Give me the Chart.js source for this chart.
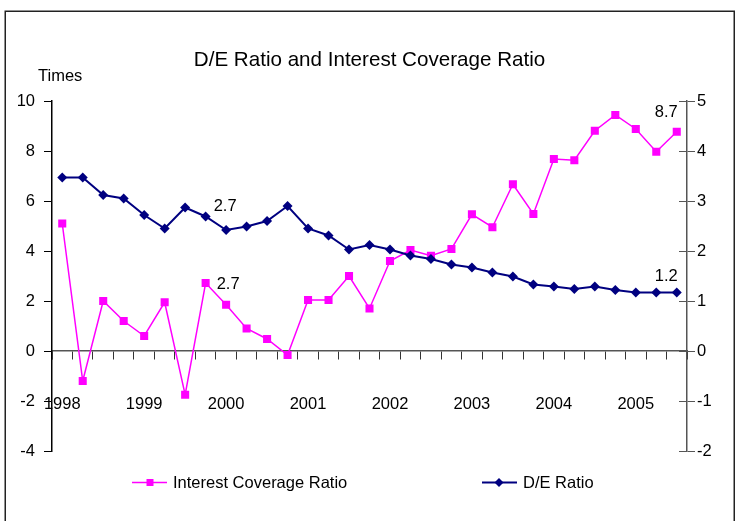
<!DOCTYPE html>
<html><head><meta charset="utf-8">
<script src="https://cdn.jsdelivr.net/npm/chart.js@4/dist/chart.umd.min.js"></script>
<style>html,body{margin:0;padding:0;background:#fff}canvas{display:block}</style>
</head><body>
<canvas id="c" width="747" height="521"></canvas>
<script>
const quarters = ['Q1 1998','Q2 1998','Q3 1998','Q4 1998','Q1 1999','Q2 1999','Q3 1999','Q4 1999',
  'Q1 2000','Q2 2000','Q3 2000','Q4 2000','Q1 2001','Q2 2001','Q3 2001','Q4 2001',
  'Q1 2002','Q2 2002','Q3 2002','Q4 2002','Q1 2003','Q2 2003','Q3 2003','Q4 2003',
  'Q1 2004','Q2 2004','Q3 2004','Q4 2004','Q1 2005','Q2 2005','Q3 2005'];
const interestCoverage = [5.1,-1.2,2.0,1.2,0.6,1.95,-1.75,2.72,1.85,0.9,0.48,-0.16,2.04,2.04,3.0,1.7,
  3.6,4.04,3.81,4.08,5.47,4.95,6.67,5.48,7.68,7.63,8.81,9.44,8.88,7.97,8.77];
const deRatio = [3.47,3.47,3.12,3.05,2.72,2.45,2.87,2.69,2.42,2.49,2.6,2.9,2.45,2.31,2.03,2.12,
  2.03,1.91,1.84,1.73,1.67,1.57,1.49,1.33,1.29,1.24,1.29,1.22,1.17,1.17,1.17];
const leftTicks = [-4,-2,0,2,4,6,8,10];
const rightTicks = [-2,-1,0,1,2,3,4,5];
const seriesNames = ['Interest Coverage Ratio','D/E Ratio'];
const pointLabels = [
  {series:0, index:7, text:'2.7'},
  {series:1, index:7, text:'2.7'},
  {series:0, index:30, text:'8.7'},
  {series:1, index:30, text:'1.2'}
];
const titleText = 'D/E Ratio and Interest Coverage Ratio';
const unitText = 'Times';

const FONT = '"Liberation Sans", Arial, sans-serif';
const PINK = '#FF00FF', NAVY = '#000080';
Chart.defaults.font.family = FONT;
Chart.defaults.font.size = 16.5;
Chart.defaults.color = '#000';

const labelPlacement = [
  {dx:11, dy:1, align:'left'},
  {dx:8, dy:-10, align:'left'},
  {dx:1, dy:-19, align:'right'},
  {dx:1, dy:-16.5, align:'right'}
];

const decor = {
  id:'decor',
  beforeDraw(chart){
    const c = chart.ctx;
    c.save();
    c.fillStyle = '#fff';
    c.fillRect(0,0,chart.width,chart.height);
    c.strokeStyle = '#222';
    c.lineWidth = 1.5;
    c.strokeRect(5.25, 11.25, 729, 530);
    c.restore();
  },
  afterDraw(chart){
    const c = chart.ctx;
    c.save();
    c.fillStyle = '#000';
    c.font = '20.6px ' + FONT;
    c.textAlign = 'center';
    c.textBaseline = 'alphabetic';
    c.fillText(titleText, 369.5, 65.5);
    c.font = '16.5px ' + FONT;
    c.textAlign = 'left';
    c.fillText(unitText, 38, 81);
    // right axis inner tick halves and first x tick at the left edge
    const y2 = chart.scales.y2;
    c.strokeStyle = '#555';
    c.lineWidth = 1;
    y2.ticks.forEach(t => {
      const py = Math.round(y2.getPixelForValue(t.value)) + 0.5;
      c.beginPath(); c.moveTo(y2.left - 8, py); c.lineTo(y2.left, py); c.stroke();
    });
    const xs = chart.scales.x, ys = chart.scales.y;
    const zy = ys.getPixelForValue(0);
    c.strokeStyle = '#333';
    c.beginPath(); c.moveTo(Math.round(xs.left) + 0.5, zy); c.lineTo(Math.round(xs.left) + 0.5, zy + 8); c.stroke();
    // data labels
    c.fillStyle = '#000';
    c.font = '16.5px ' + FONT;
    c.textBaseline = 'middle';
    pointLabels.forEach((pl, k) => {
      const pt = chart.getDatasetMeta(pl.series).data[pl.index];
      const p = labelPlacement[k];
      c.textAlign = p.align;
      c.fillText(pl.text, pt.x + p.dx, pt.y + p.dy);
    });
    // legend
    const ly = 482.5;
    const items = [
      {x0:132, x1:167, mx:150, tx:173, color:PINK, style:'rect', lw:1.5},
      {x0:482, x1:517, mx:499, tx:523, color:NAVY, style:'rectRot', lw:2}
    ];
    items.forEach((it, i) => {
      c.strokeStyle = it.color; c.lineWidth = it.lw;
      c.beginPath(); c.moveTo(it.x0, ly); c.lineTo(it.x1, ly); c.stroke();
      c.fillStyle = it.color;
      c.beginPath();
      if (it.style === 'rect') { c.rect(it.mx - 3.5, ly - 3.5, 7, 7); }
      else { c.moveTo(it.mx - 4.5, ly); c.lineTo(it.mx, ly - 4.5); c.lineTo(it.mx + 4.5, ly); c.lineTo(it.mx, ly + 4.5); c.closePath(); }
      c.fill();
      c.fillStyle = '#000';
      c.textAlign = 'left';
      c.textBaseline = 'middle';
      c.fillText(seriesNames[i], it.tx, ly + 0.5);
    });
    c.restore();
  }
};

new Chart(document.getElementById('c'), {
  type:'line',
  data:{
    labels: quarters,
    datasets:[
      {label:seriesNames[0], data:interestCoverage, yAxisID:'y', order:1,
       borderColor:PINK, backgroundColor:PINK, borderWidth:1.5, tension:0,
       pointStyle:'rect', pointRadius:5.7, pointBorderWidth:0, pointBorderColor:PINK},
      {label:seriesNames[1], data:deRatio, yAxisID:'y2', order:0,
       borderColor:NAVY, backgroundColor:NAVY, borderWidth:2, tension:0,
       pointStyle:'rectRot', pointRadius:5, pointBorderWidth:0, pointBorderColor:NAVY}
    ]
  },
  options:{
    responsive:false,
    animation:false,
    devicePixelRatio:1,
    layout:{padding:{top:101, bottom:70, left:0, right:0}},
    plugins:{legend:{display:false}, title:{display:false}, tooltip:{enabled:false}},
    scales:{
      x:{
        type:'category', position:{y:0}, offset:true,
        grid:{offset:true, drawOnChartArea:false, tickLength:8, color:'#333', lineWidth:1},
        border:{color:'#555', width:1.5},
        ticks:{autoSkip:false, maxRotation:0, minRotation:0, padding:36,
          callback:(v,i)=> quarters[i].startsWith('Q1') ? quarters[i].slice(3) : ''},
        afterFit:s=>{ s.height = 0; }
      },
      y:{
        position:'left', min:-4, max:10,
        afterBuildTicks:s=>{ s.ticks = leftTicks.map(v=>({value:v})); },
        grid:{drawOnChartArea:false, tickLength:8, color:'#000'},
        border:{color:'#000', width:1.5},
        ticks:{padding:9},
        afterFit:s=>{ s.width = 52; }
      },
      y2:{
        position:'right', min:-2, max:5,
        afterBuildTicks:s=>{ s.ticks = rightTicks.map(v=>({value:v})); },
        grid:{drawOnChartArea:false, tickLength:8, color:'#555'},
        border:{color:'#555', width:1.5},
        ticks:{padding:2},
        afterFit:s=>{ s.width = 60; }
      }
    }
  },
  plugins:[decor]
});
</script>
</body></html>
